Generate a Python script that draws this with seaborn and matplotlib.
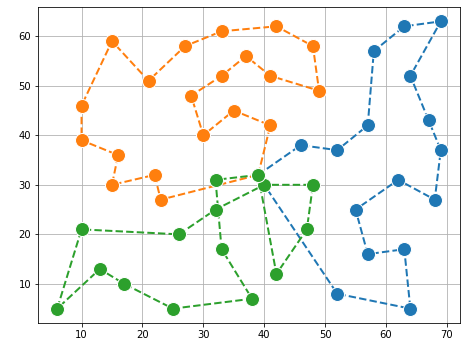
import matplotlib
matplotlib.use("Agg")
import matplotlib.pyplot as plt
import seaborn as sns
import pandas as pd

# Route coordinates (visit order)
blue_x = [39, 46, 52, 57, 58, 63, 69, 64, 67, 69, 68, 62, 55, 57, 63, 64, 52, 40]
blue_y = [32, 38, 37, 42, 57, 62, 63, 52, 43, 37, 27, 31, 25, 16, 17, 5, 8, 30]

orange_x = [39, 41, 35, 30, 28, 33, 37, 41, 49, 48, 42, 33, 27, 21, 15, 10, 10, 16, 15, 22, 23, 39]
orange_y = [32, 42, 45, 40, 48, 52, 56, 52, 49, 58, 62, 61, 58, 51, 59, 46, 39, 36, 30, 32, 27, 32]

green_x = [39, 32, 33, 38, 25, 17, 13, 6, 10, 26, 32, 40, 48, 47, 42, 39]
green_y = [32, 31, 17, 7, 5, 10, 13, 5, 21, 20, 25, 30, 30, 21, 12, 32]

routes = [(blue_x, blue_y, "tab:blue"),
          (orange_x, orange_y, "tab:orange"),
          (green_x, green_y, "tab:green")]

fig, ax = plt.subplots(figsize=(461 / 72, 344 / 72), dpi=72)
fig.subplots_adjust(left=38 / 461, right=460 / 461, top=1 - 7 / 344, bottom=1 - 323 / 344)

for xs, ys, color in routes:
    df = pd.DataFrame({"x": xs, "y": ys})
    sns.lineplot(data=df, x="x", y="y", sort=False, estimator=None, ax=ax,
                 color=color, linestyle="--", linewidth=2, marker="o",
                 markersize=14, markeredgecolor="white", markeredgewidth=1)

ax.set_xlabel("")
ax.set_ylabel("")
ax.grid(True)
fig.savefig("out.png", dpi=72)
